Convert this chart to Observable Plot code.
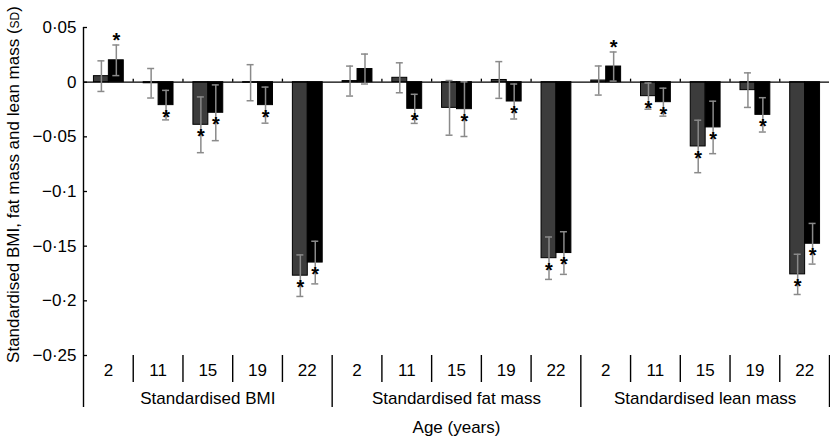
<!DOCTYPE html>
<html><head><meta charset="utf-8">
<script src="https://cdn.jsdelivr.net/npm/d3@7"></script>
<script src="https://cdn.jsdelivr.net/npm/@observablehq/plot@0.6"></script>
<style>body{margin:0;background:#fff}</style>
</head><body><div id="chart"></div>
<script>
const measures = ["Standardised BMI", "Standardised fat mass", "Standardised lean mass"];
const ages = [2, 11, 15, 19, 22];
const yTicks = [0.05, 0, -0.05, -0.1, -0.15, -0.2, -0.25];
const yLabel = "Standardised BMI, fat mass and lean mass (SD)";
const xLabel = "Age (years)";

// first (dark grey) series and second (black) series: mean and error per age
const bmiGrey = [0.0055, -0.001, -0.039, -0.0005, -0.177];
const bmiGreyErr = [0.014, 0.0135, 0.0255, 0.0165, 0.019];
const bmiBlack = [0.020, -0.021, -0.028, -0.021, -0.165];
const bmiBlackErr = [0.014, 0.0135, 0.0255, 0.0165, 0.0195];
const fatGrey = [0.001, 0.004, -0.0235, 0.002, -0.161];
const fatGreyErr = [0.0137, 0.0137, 0.025, 0.0168, 0.0194];
const fatBlack = [0.012, -0.0244, -0.0247, -0.0177, -0.1563];
const fatBlackErr = [0.0137, 0.0133, 0.025, 0.016, 0.0195];
const leanGrey = [0.0015, -0.0128, -0.0588, -0.0073, -0.1758];
const leanGreyErr = [0.0133, 0.012, 0.024, 0.0158, 0.0184];
const leanBlack = [0.0143, -0.0183, -0.0414, -0.0299, -0.1478];
const leanBlackErr = [0.0133, 0.0128, 0.024, 0.0157, 0.0186];
// significance markers (*)
const bmiGreySig = [false, false, true, false, true];
const bmiBlackSig = [true, true, true, true, true];
const fatGreySig = [false, false, false, false, true];
const fatBlackSig = [false, true, true, true, true];
const leanGreySig = [false, true, true, false, true];
const leanBlackSig = [true, true, true, true, true];

const seriesByMeasure = [
  [[bmiGrey, bmiGreyErr, bmiGreySig], [bmiBlack, bmiBlackErr, bmiBlackSig]],
  [[fatGrey, fatGreyErr, fatGreySig], [fatBlack, fatBlackErr, fatBlackSig]],
  [[leanGrey, leanGreyErr, leanGreySig], [leanBlack, leanBlackErr, leanBlackSig]]
];
const seriesNames = ["Series 1", "Series 2"];
const seriesColors = ["#3c3c3c", "#000000"];

const rows = [];
seriesByMeasure.forEach((ser, mi) => {
  ages.forEach((age, ai) => {
    const slot = mi * ages.length + ai;
    ser.forEach(([vals, errs, sigs], si) => {
      const x1 = slot + 0.21 + si * 0.3;
      rows.push({measure: measures[mi], age, series: seriesNames[si], x1, x2: x1 + 0.3, cx: x1 + 0.15,
        value: vals[ai], lo: vals[ai] - errs[ai], hi: vals[ai] + errs[ai], sig: sigs[ai]});
    });
  });
});
const nSlots = measures.length * ages.length;
const slotCenters = d3.range(nSlots).map(i => i + 0.5);
const boundaries = d3.range(nSlots + 1);
const innerBounds = boundaries.filter(b => b % ages.length !== 0);
const groupBounds = boundaries.filter(b => b % ages.length === 0);
const groupCenters = measures.map((m, i) => i * ages.length + ages.length / 2);
const fmt = d => d === 0 ? "0" : (d < 0 ? "\u2212" : "") + String(Math.abs(d)).replace(".", "\u00b7");

const font = "'Liberation Sans', Arial, Helvetica, sans-serif";
const chart = Plot.plot({
  width: 830, height: 440,
  marginLeft: 83, marginRight: 1, marginTop: 27, marginBottom: 85,
  x: {type: "linear", domain: [0, nSlots]},
  y: {domain: [-0.25, 0.05]},
  color: {type: "ordinal", domain: seriesNames, range: seriesColors},
  style: {fontFamily: font, fontSize: "17px", color: "#000", background: "#fff", overflow: "visible"},
  marks: [
    Plot.axisY(yTicks, {tickSize: 0, tickPadding: 7, tickFormat: fmt, label: null, fontSize: 17}),
    Plot.ruleY(yTicks, {x1: 0, x2: 0, insetRight: -4, stroke: "#000", strokeWidth: 1.3}),
    Plot.axisX(slotCenters, {tickSize: 0, tickPadding: 8, tickFormat: d => String(ages[Math.floor(d) % ages.length]), label: null, fontSize: 17}),
    Plot.axisX(innerBounds, {tickSize: 27, tickFormat: () => "", label: null, strokeWidth: 1.4}),
    Plot.axisX(groupBounds, {tickSize: 52, tickFormat: () => "", label: null, strokeWidth: 1.4}),
    Plot.axisX(groupCenters, {tickSize: 0, tickPadding: 36, tickFormat: d => measures[Math.floor(d / ages.length)], label: null, fontSize: 17}),
    Plot.text([xLabel], {frameAnchor: "bottom", dy: 72, fontSize: 17, lineAnchor: "middle", textAnchor: "middle"}),
    Plot.text([yLabel], {frameAnchor: "left", rotate: -90, dx: -70, dy: -7, fontSize: 17, lineAnchor: "middle", textAnchor: "middle", className: "ylab"}),
    Plot.rect(rows, {x1: "x1", x2: "x2", y1: 0, y2: "value", fill: "series", stroke: "#000", strokeWidth: 1}),
    Plot.ruleX([0], {stroke: "#000", strokeWidth: 1.4}),
    Plot.ruleY([0], {stroke: "#000", strokeWidth: 1.4}),
    Plot.ruleX(innerBounds, {y1: 0, y2: 0, insetTop: -3, stroke: "#000", strokeWidth: 1.3}),
    Plot.ruleX(rows, {x: "cx", y1: "lo", y2: "hi", stroke: "#8a8a8a", strokeWidth: 1.5}),
    Plot.ruleY(rows, {y: "lo", x1: "cx", x2: "cx", insetLeft: -3.5, insetRight: -3.5, stroke: "#8a8a8a", strokeWidth: 1.5}),
    Plot.ruleY(rows, {y: "hi", x1: "cx", x2: "cx", insetLeft: -3.5, insetRight: -3.5, stroke: "#8a8a8a", strokeWidth: 1.5}),
    Plot.text(rows.filter(d => d.sig && d.value < 0), {x: "cx", y: "value", text: () => "*", dy: 12, fontSize: 20, fontWeight: "bold", lineAnchor: "middle"}),
    Plot.text(rows.filter(d => d.sig && d.value >= 0), {x: "cx", y: "hi", text: () => "*", dy: -4, fontSize: 20, fontWeight: "bold", lineAnchor: "middle"})
  ]
});
// small caps for "SD" in the y label
const yl = chart.querySelector(".ylab text");
if (yl) {
  const txt = yl.textContent;
  const i = txt.lastIndexOf("(SD)");
  if (i >= 0) {
    yl.textContent = "";
    yl.appendChild(document.createTextNode(txt.slice(0, i + 1)));
    const ts = document.createElementNS("http://www.w3.org/2000/svg", "tspan");
    ts.setAttribute("style", "font-variant: small-caps");
    ts.textContent = "sd";
    yl.appendChild(ts);
    yl.appendChild(document.createTextNode(")"));
  }
}
document.getElementById("chart").appendChild(chart);
</script>
</body></html>
